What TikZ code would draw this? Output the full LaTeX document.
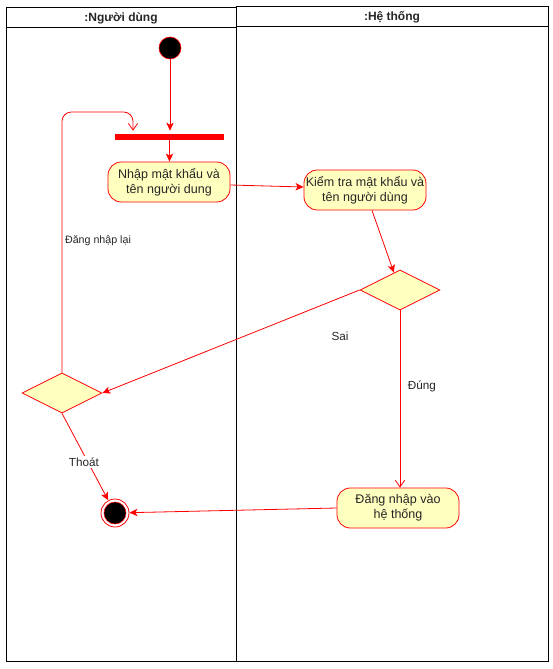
\documentclass[tikz,border=0pt]{standalone}
\usepackage{fontspec}
\setmainfont{Liberation Sans}
\usetikzlibrary{shapes.geometric,arrows.meta,calc}
\definecolor{yfill}{HTML}{FFFFC0}
\definecolor{lred}{HTML}{FF0000}
\begin{document}
\begin{tikzpicture}[x=0.75pt,y=-0.75pt,
  lane/.style={draw=black, line width=0.75pt},
  head/.style={font=\fontsize{9}{11}\selectfont\bfseries, text=black!85},
  act/.style={draw=lred, fill=yfill, rounded corners=10pt, minimum width=91.5pt, minimum height=30pt, align=center, inner sep=1pt, font=\fontsize{9.4}{11.2}\selectfont, text=black!85, line width=0.6pt},
  dec/.style={draw=lred, fill=yfill, diamond, minimum width=60pt, minimum height=30pt, inner sep=0pt, line width=0.6pt},
  flow/.style={draw=lred, line width=0.6pt, -{Stealth[length=6pt,width=5.5pt,inset=1.5pt]}},
  oflow/.style={draw=lred, line width=0.6pt, -{Straight Barb[length=5pt,width=7pt]}},
  lbl/.style={font=\fontsize{8.8}{10}\selectfont, text=black!85},
  slbl/.style={font=\fontsize{8}{9}\selectfont, text=black!85}]
\useasboundingbox (0,0) rectangle (553,669);
% swimlanes
\draw[lane] (6,7) rectangle (236,661);
\draw[lane] (6,27) -- (236,27);
\draw[lane] (236,6) rectangle (548,661);
\draw[lane] (236,26) -- (548,26);
\node[head] (h1) at (121,18) {:Người dùng};
\node[head] (h2) at (392,17) {:Hệ thống};
% nodes
\node[circle, fill=black, draw=lred, line width=0.5pt, minimum size=16.5pt, inner sep=0pt] (start) at (170,48) {};
\node[rectangle, fill=lred, minimum width=81.75pt, minimum height=4.5pt, inner sep=0pt] (fork) at (169.5,137) {};
\node[act] (n1) at (169,182) {Nhập mật khẩu và\\tên người dung};
\node[act] (n2) at (365,190) {Kiểm tra mật khẩu và\\tên người dùng};
\node[dec] (d1) at (400,290) {};
\node[dec] (d2) at (62,393) {};
\node[act] (n3) at (398,508) {Đăng nhập vào\\hệ thống};
\node[circle, draw=lred, line width=0.6pt, minimum size=21pt, inner sep=0pt] (end) at (115,513) {};
\node[circle, fill=black, draw=lred, line width=0.4pt, minimum size=16.5pt, inner sep=0pt] (endin) at (115,513) {};
\coordinate (loopc) at (133,112);
% connectors
\draw[flow] (start.south) -- ($(start.south |- fork.north)+(0,-3)$);
\draw[flow] (fork.south) -- (fork.south |- n1.north);
\draw[flow] ($(n1.east)+(0,3)$) -- ($(n2.west)+(0,-3)$);
\draw[flow] ($(n2.south)+(7,0)$) -- (d1);
\draw[flow] (d1.west) -- (d2.east);
\draw[oflow] (d1.south) -- (d1.south |- n3.north);
\draw[flow] (n3.west) -- (end);
\draw[flow] (d2.south) -- (end);
\draw[oflow, rounded corners=7pt] (d2.north) |- (loopc) -- ($(loopc |- fork.north)+(0,-3)$);
% labels
\node[lbl] (lsai) at (340,336) {Sai};
\node[lbl] (ldung) at (422,386) {Đúng};
\node[lbl, fill=white, inner sep=1pt] (lthoat) at (84,462) {Thoát};
\node[slbl] (llai) at (98,241) {Đăng nhập lại};
\end{tikzpicture}
\end{document}
